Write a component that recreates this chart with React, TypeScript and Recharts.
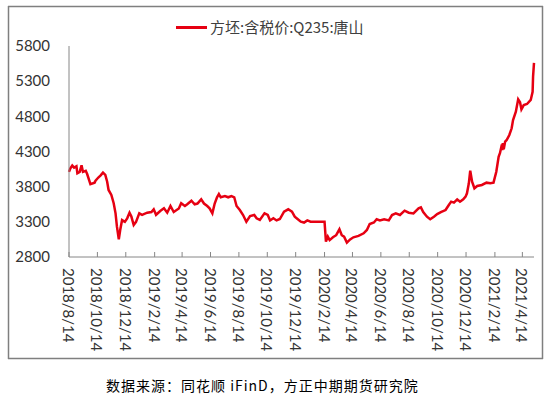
import { LineChart, Line, XAxis, YAxis, Legend } from "recharts";

// 方坯 含税价 Q235 唐山 (元/吨)
const DATES = [
  "2018-08-14", "2018-08-17", "2018-08-21", "2018-08-25", "2018-08-30", "2018-09-01", "2018-09-06",
  "2018-09-10", "2018-09-13", "2018-09-19", "2018-09-22", "2018-09-29", "2018-10-08", "2018-10-10",
  "2018-10-16", "2018-10-21", "2018-10-26", "2018-10-31", "2018-11-04", "2018-11-07", "2018-11-13",
  "2018-11-18", "2018-11-22", "2018-11-25", "2018-11-29", "2018-12-02", "2018-12-06", "2018-12-12",
  "2018-12-17", "2018-12-22", "2018-12-26", "2018-12-31", "2019-01-05", "2019-01-12", "2019-01-18",
  "2019-01-29", "2019-02-07", "2019-02-12", "2019-02-17", "2019-02-26", "2019-03-06", "2019-03-13",
  "2019-03-20", "2019-03-27", "2019-04-07", "2019-04-12", "2019-04-20", "2019-04-25", "2019-05-04",
  "2019-05-11", "2019-05-17", "2019-05-25", "2019-05-31", "2019-06-07", "2019-06-12", "2019-06-18",
  "2019-06-23", "2019-06-28", "2019-07-02", "2019-07-06", "2019-07-15", "2019-07-22", "2019-07-29",
  "2019-08-04", "2019-08-09", "2019-08-16", "2019-08-23", "2019-08-30", "2019-09-07", "2019-09-16",
  "2019-09-21", "2019-09-28", "2019-10-08", "2019-10-15", "2019-10-20", "2019-10-27", "2019-11-03",
  "2019-11-10", "2019-11-19", "2019-11-28", "2019-12-06", "2019-12-12", "2019-12-18", "2019-12-25",
  "2020-01-01", "2020-01-08", "2020-01-15", "2020-01-22", "2020-02-14", "2020-02-17", "2020-02-21",
  "2020-02-25", "2020-03-03", "2020-03-10", "2020-03-17", "2020-03-22", "2020-03-27", "2020-04-02",
  "2020-04-09", "2020-04-16", "2020-04-27", "2020-05-08", "2020-05-15", "2020-05-21", "2020-05-30",
  "2020-06-05", "2020-06-12", "2020-06-21", "2020-07-01", "2020-07-08", "2020-07-16", "2020-07-25",
  "2020-08-04", "2020-08-13", "2020-08-23", "2020-09-03", "2020-09-08", "2020-09-13", "2020-09-21",
  "2020-09-28", "2020-10-06", "2020-10-13", "2020-10-22", "2020-10-31", "2020-11-07", "2020-11-12",
  "2020-11-18", "2020-11-25", "2020-12-01", "2020-12-08", "2020-12-13", "2020-12-16", "2020-12-20",
  "2020-12-23", "2020-12-27", "2021-01-01", "2021-01-07", "2021-01-17", "2021-01-27", "2021-02-04",
  "2021-02-11", "2021-02-17", "2021-02-22", "2021-02-25", "2021-03-01", "2021-03-02", "2021-03-03",
  "2021-03-05", "2021-03-08", "2021-03-11", "2021-03-17", "2021-03-22", "2021-03-25", "2021-03-31",
  "2021-04-05", "2021-04-09", "2021-04-12", "2021-04-17", "2021-04-24", "2021-05-02", "2021-05-06",
  "2021-05-07", "2021-05-09",
];

const PRICES = [
  4010, 4060, 4100, 4070, 4090, 3990, 4010,
  4105, 4010, 4025, 3980, 3835, 3857, 3885,
  3930, 3960, 4000, 3967, 3870, 3753, 3682,
  3564, 3421, 3231, 3050, 3184, 3326, 3300,
  3350, 3430, 3375, 3255, 3300, 3421, 3400,
  3430, 3440, 3478, 3400, 3454, 3492, 3430,
  3525, 3440, 3490, 3564, 3525, 3550, 3600,
  3550, 3560, 3620, 3560, 3525, 3492, 3421,
  3560, 3649, 3696, 3649, 3667, 3649, 3667,
  3649, 3525, 3468, 3397, 3302, 3383, 3397,
  3350, 3327, 3421, 3397, 3320, 3350, 3320,
  3340, 3444, 3478, 3444, 3373, 3340, 3302,
  3290, 3320, 3302, 3302, 3302, 3018, 3090,
  3040, 3080, 3110, 3194, 3110, 3090, 3005,
  3050, 3080, 3100, 3137, 3185, 3270, 3290,
  3336, 3320, 3336, 3320, 3397, 3420, 3397,
  3459, 3430, 3420, 3492, 3506, 3440, 3373,
  3336, 3373, 3410, 3440, 3468, 3540, 3587,
  3573, 3620, 3587, 3620, 3658, 3706, 3848,
  4027, 3871, 3777, 3810, 3824, 3857, 3848,
  3857, 4013, 4226, 4280, 4400, 4320, 4420,
  4330, 4440, 4460, 4535, 4630, 4748, 4866,
  5042, 5000, 4900, 4960, 4975, 5033, 5150,
  5364, 5560,
];

const X_TICK_LABELS = [
  "2018/8/14", "2018/10/14", "2018/12/14", "2019/2/14", "2019/4/14", "2019/6/14",
  "2019/8/14", "2019/10/14", "2019/12/14", "2020/2/14", "2020/4/14", "2020/6/14",
  "2020/8/14", "2020/10/14", "2020/12/14", "2021/2/14", "2021/4/14",
];

const Y_TICKS = [2800, 3300, 3800, 4300, 4800, 5300, 5800];

const SERIES_NAME = "方坯:含税价:Q235:唐山";
const SOURCE = "数据来源：同花顺 iFinD，方正中期期货研究院";

// days since the first date, used as the x value
const dayOf = (s: string) => {
  const [y, m, d] = s.split(/[-/]/).map(Number);
  return Math.round((Date.UTC(y, m - 1, d) - Date.UTC(2018, 7, 14)) / 86400000);
};

const data = DATES.map((d, i) => ({ day: dayOf(d), price: PRICES[i] }));
const tickDays = X_TICK_LABELS.map(dayOf);
const lastDay = dayOf(DATES[DATES.length - 1]);

const RED = "#E60012";
const AXIS = "#868686";
const FRAME = "#7f7f7f";
const TEXT = "#333333";
const FONT = "Lato, 'Noto Sans CJK SC', sans-serif";

const XTick = (props: any) => {
  const { x, y, index } = props;
  return (
    <g>
      <line x1={x} y1={y} x2={x} y2={y - 5} stroke={AXIS} />
      <text
        x={x}
        y={y + 11}
        dy="0.4em"
        transform={`rotate(90, ${x}, ${y + 11})`}
        textAnchor="start"
        fontSize={15}
        fontFamily={FONT}
        fill={TEXT}
      >
        {X_TICK_LABELS[index]}
      </text>
    </g>
  );
};

const YTick = (props: any) => {
  const { y, payload } = props;
  return (
    <text x={50} y={y} dy="0.35em" textAnchor="end" fontSize={15} fontFamily={FONT} fill={TEXT}>
      {payload.value}
    </text>
  );
};

const LegendContent = () => (
  <div style={{ display: "flex", alignItems: "center" }}>
    <span style={{ display: "inline-block", width: 31, height: 3, background: RED, marginRight: 3 }} />
    <span style={{ fontSize: 15, color: "#404040", fontFamily: "'Noto Sans CJK SC', sans-serif", lineHeight: "20px" }}>
      {SERIES_NAME}
    </span>
  </div>
);

export default function App() {
  return (
    <div style={{ position: "absolute", left: 0, top: 0, width: 550, height: 399, background: "#fff" }}>
      <LineChart
        width={550}
        height={399}
        data={data}
        margin={{ top: 46, right: 16, bottom: 12, left: 19 }}
      >
        {/* chart frame, one side at a time */}
        <line x1={8} y1={6.5} x2={543} y2={6.5} stroke={FRAME} strokeWidth={1.5} />
        <line x1={542.5} y1={6} x2={542.5} y2={359} stroke={FRAME} strokeWidth={1.5} />
        <line x1={8.5} y1={6} x2={8.5} y2={359} stroke={FRAME} strokeWidth={1.5} />
        <line x1={8} y1={358.5} x2={543} y2={358.5} stroke={FRAME} strokeWidth={1.5} />
        <XAxis
          dataKey="day"
          type="number"
          domain={[0, lastDay]}
          ticks={tickDays}
          interval={0}
          height={130}
          tickLine={false}
          tickSize={0}
          tickMargin={0}
          axisLine={{ stroke: AXIS }}
          tick={(p: any) => <XTick {...p} />}
        />
        <YAxis
          type="number"
          domain={[2800, 5800]}
          ticks={Y_TICKS}
          interval={0}
          width={50}
          tickLine={false}
          tickSize={0}
          axisLine={{ stroke: AXIS }}
          tick={(p: any) => <YTick {...p} />}
        />
        <Legend
          layout="horizontal"
          verticalAlign="middle"
          align="center"
          content={() => <LegendContent />}
          wrapperStyle={{ position: "absolute", left: 176, top: 17, width: 260 }}
        />
        <Line
          type="linear"
          dataKey="price"
          name={SERIES_NAME}
          stroke={RED}
          strokeWidth={2.5}
          dot={false}
          isAnimationActive={false}
        />
      </LineChart>
      <div
        style={{
          position: "absolute",
          left: 106,
          top: 376,
          fontSize: 14,
          lineHeight: "18px",
          letterSpacing: 1,
          whiteSpace: "nowrap",
          color: "#000",
          fontFamily: "'Noto Sans CJK SC', sans-serif",
        }}
      >
        {SOURCE}
      </div>
    </div>
  );
}
